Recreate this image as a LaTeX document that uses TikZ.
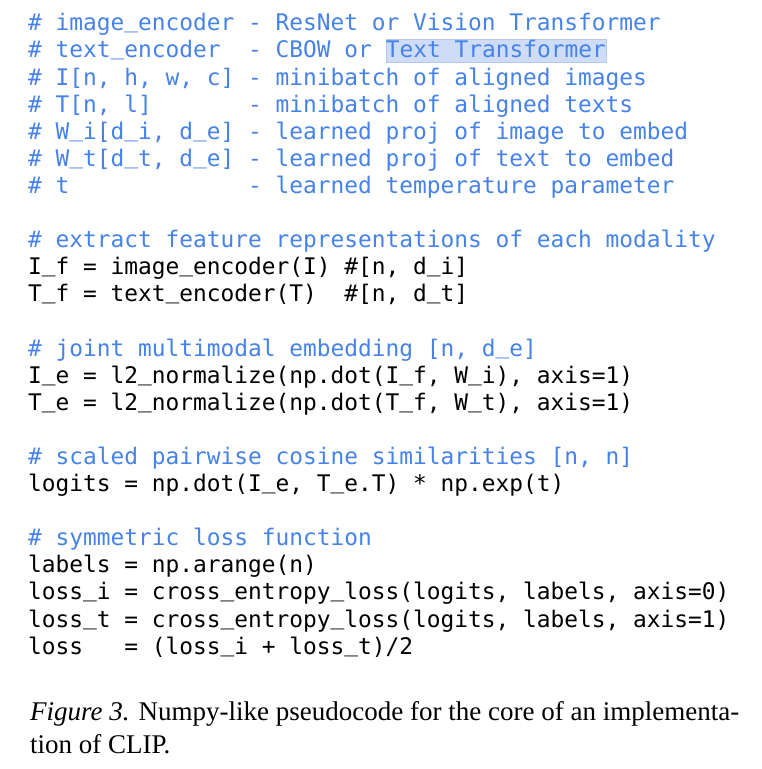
\documentclass[tikz,border=0pt]{standalone}
\usepackage{fontspec}
\setmainfont{Liberation Serif}
\setmonofont{DejaVu Sans Mono}
\definecolor{cmtblue}{RGB}{70,130,232}
\definecolor{hlfill}{RGB}{206,220,246}
\definecolor{hlline}{RGB}{178,200,240}
\newcommand\usc{\raisebox{3pt}{\_}}
\begin{document}
\begin{tikzpicture}[x=1pt,y=-1pt,
    code/.style={anchor=base west,inner sep=0pt,font=\ttfamily\fontsize{22.84}{27.1}\selectfont},
    cmt/.style={code,text=cmtblue},
    capt/.style={anchor=base west,inner sep=0pt,font=\fontsize{27}{32.6}\selectfont}]
    \useasboundingbox (0,0) rectangle (762,769);
    \def\xo{28} ; \def\yo{30.8} ; \def\dy{27.1} ; \def\cw{13.75} ;
    % header comments
    \node[cmt] (l1) at (\xo,\yo) {\# image\usc encoder - ResNet or Vision Transformer};
    \node[cmt] (l2) at (\xo,\yo+\dy) {\# text\usc encoder\ \ - CBOW or};
    \node[cmt,fill=hlfill,draw=hlline,line width=0.6pt,text height=18.5pt,text depth=4.3pt] (hl) at (\xo+26*\cw,\yo+\dy) {Text Transformer};
    \node[cmt] (l3) at (\xo,\yo+2*\dy) {\# I[n, h, w, c] - minibatch of aligned images};
    \node[cmt] (l4) at (\xo,\yo+3*\dy) {\# T[n, l]\ \ \ \ \ \ \ - minibatch of aligned texts};
    \node[cmt] (l5) at (\xo,\yo+4*\dy) {\# W\usc i[d\usc i, d\usc e] - learned proj of image to embed};
    \node[cmt] (l6) at (\xo,\yo+5*\dy) {\# W\usc t[d\usc t, d\usc e] - learned proj of text to embed};
    \node[cmt] (l7) at (\xo,\yo+6*\dy) {\# t\ \ \ \ \ \ \ \ \ \ \ \ \ - learned temperature parameter};
    % features
    \node[cmt] (l9) at (\xo,\yo+8*\dy) {\# extract feature representations of each modality};
    \node[code] (l10) at (\xo,\yo+9*\dy) {I\usc f = image\usc encoder(I) \#[n, d\usc i]};
    \node[code] (l11) at (\xo,\yo+10*\dy) {T\usc f = text\usc encoder(T)\ \ \#[n, d\usc t]};
    % embedding
    \node[cmt] (l13) at (\xo,\yo+12*\dy) {\# joint multimodal embedding [n, d\usc e]};
    \node[code] (l14) at (\xo,\yo+13*\dy) {I\usc e = l2\usc normalize(np.dot(I\usc f, W\usc i), axis=1)};
    \node[code] (l15) at (\xo,\yo+14*\dy) {T\usc e = l2\usc normalize(np.dot(T\usc f, W\usc t), axis=1)};
    % logits
    \node[cmt] (l17) at (\xo,\yo+16*\dy) {\# scaled pairwise cosine similarities [n, n]};
    \node[code] (l18) at (\xo,\yo+17*\dy) {logits = np.dot(I\usc e, T\usc e.T) * np.exp(t)};
    % loss
    \node[cmt] (l20) at (\xo,\yo+19*\dy) {\# symmetric loss function};
    \node[code] (l21) at (\xo,\yo+20*\dy) {labels = np.arange(n)};
    \node[code] (l22) at (\xo,\yo+21*\dy) {loss\usc i = cross\usc entropy\usc loss(logits, labels, axis=0)};
    \node[code] (l23) at (\xo,\yo+22*\dy) {loss\usc t = cross\usc entropy\usc loss(logits, labels, axis=1)};
    \node[code] (l24) at (\xo,\yo+23*\dy) {loss\ \ \ = (loss\usc i + loss\usc t)/2};
    % caption
    \node[capt] (cap1) at (30,720.7) {\textit{Figure 3.} Numpy-like pseudocode for the core of an implementa-};
    \node[capt] (cap2) at (30,753.3) {tion of CLIP.};
\end{tikzpicture}
\end{document}
